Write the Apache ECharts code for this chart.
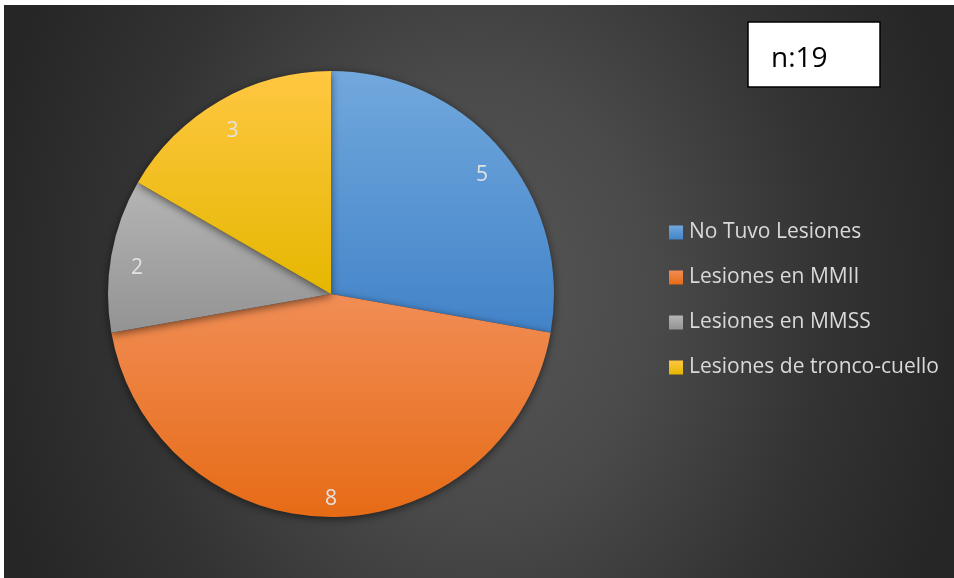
<!DOCTYPE html>
<html>
<head>
<meta charset="utf-8">
<script src="https://cdn.jsdelivr.net/npm/echarts@6/dist/echarts.min.js"></script>
<style>
  html, body { margin: 0; padding: 0; background: #ffffff; }
  #chart {
    position: absolute; left: 4px; top: 5px; width: 950px; height: 573px;
    background: radial-gradient(ellipse 500px 620px at 473px 290px, #575757 0%, #4a4a4a 35%, #333333 70%, #262626 100%);
  }
</style>
</head>
<body>
<div id="chart"></div>
<script>
// Injury categories and counts
const categories = ['No Tuvo Lesiones', 'Lesiones en MMII', 'Lesiones en MMSS', 'Lesiones de tronco-cuello'];
const counts = [5, 8, 2, 3];
const sampleLabel = 'n:19';

// Slice fills: lighter at the top of each sector, darker at the bottom
const palette = [
  ['#71a8dd', '#4283c8'],
  ['#f18d55', '#e66b16'],
  ['#b5b5b5', '#939393'],
  ['#ffc742', '#e5b700']
];

const grad = (c) => new echarts.graphic.LinearGradient(0, 0, 0, 1, [
  { offset: 0, color: c[0] },
  { offset: 1, color: c[1] }
]);

const pieData = categories.map((name, i) => ({
  name: name,
  value: counts[i],
  itemStyle: { color: grad(palette[i]) }
}));

const labelData = categories.map((name, i) => ({ name: name, value: counts[i] }));

const chart = echarts.init(document.getElementById('chart'), null, { renderer: 'canvas' });

chart.setOption({
  backgroundColor: 'transparent',
  animation: false,
  legend: {
    orient: 'vertical',
    left: 660,
    top: 212,
    icon: 'rect',
    itemWidth: 14,
    itemHeight: 14,
    itemGap: 24,
    data: categories,
    selectedMode: false,
    textStyle: {
      color: '#d9d9d9',
      fontFamily: 'Open Sans',
      fontSize: 21,
      lineHeight: 20,
      padding: [0, 0, 0, 1]
    }
  },
  graphic: [
    {
      type: 'rect',
      shape: { x: 744, y: 17, width: 132, height: 65 },
      style: { fill: '#ffffff', stroke: '#000000', lineWidth: 1.5 }
    },
    {
      type: 'text',
      x: 767,
      y: 54,
      style: {
        text: sampleLabel,
        fill: '#000000',
        font: '28px "Open Sans"',
        verticalAlign: 'middle'
      }
    }
  ],
  series: [
    {
      type: 'pie',
      center: [327, 289],
      radius: [0, 223],
      startAngle: 90,
      clockwise: true,
      silent: true,
      label: { show: false },
      labelLine: { show: false },
      itemStyle: {
        borderWidth: 0,
        shadowBlur: 8,
        shadowColor: 'rgba(0,0,0,0.55)',
        shadowOffsetY: 2
      },
      data: pieData
    },
    {
      // transparent ring that carries the value labels near the rim
      type: 'pie',
      center: [327, 289],
      radius: [165, 223],
      startAngle: 90,
      clockwise: true,
      silent: true,
      itemStyle: { color: 'rgba(0,0,0,0)' },
      label: {
        show: true,
        position: 'inside',
        formatter: '{c}',
        color: '#e2e2e2',
        fontFamily: 'Open Sans',
        fontSize: 21,
        offset: [0, 8]
      },
      labelLine: { show: false },
      data: labelData
    }
  ]
});
</script>
</body>
</html>
